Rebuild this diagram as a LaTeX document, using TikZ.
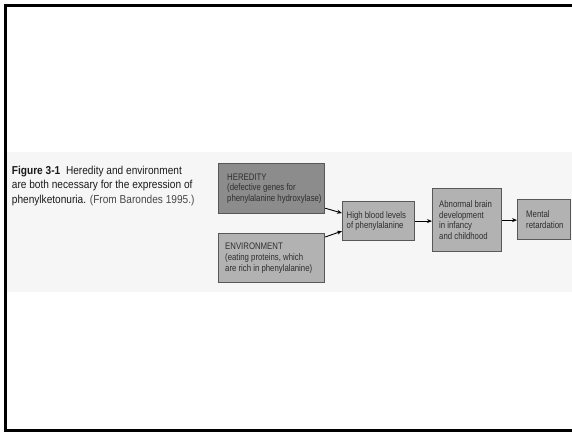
\documentclass[tikz,border=0pt]{standalone}
\usepackage{fontspec}
\setmainfont{Liberation Sans}
\newfontfamily\capfont[FakeStretch=0.88]{Liberation Sans}
\newfontfamily\bxfont[FakeStretch=0.82]{Liberation Sans}
\usetikzlibrary{arrows.meta,calc}
\definecolor{bandbg}{HTML}{F6F6F6}
\definecolor{darkbox}{HTML}{8C8C8C}
\definecolor{lightbox}{HTML}{B2B2B2}
\definecolor{boxline}{HTML}{585858}
\definecolor{boxtext}{HTML}{2E2E2E}
\definecolor{captext}{HTML}{1A1A1A}
\definecolor{capsrc}{HTML}{474747}
\begin{document}
\begin{tikzpicture}[x=1pt,y=-1pt,
  box/.style={draw=boxline, line width=1.2pt, rectangle, inner sep=0pt, anchor=north west},
  boxtxt/.style={font=\bxfont\fontsize{9.5}{10.7}\selectfont, text=boxtext, align=left, inner sep=0pt, anchor=west},
  arr/.style={-{Stealth[length=5pt,width=4pt]}, line width=0.9pt, black}]
\useasboundingbox (0,0) rectangle (572,433);
\fill[bandbg] (7,152) rectangle (572,292);
\draw[line width=3pt] (572,5.8) -- (5,5.8) -- (5,430.5) -- (572,430.5);

\node[font=\capfont\fontsize{11.5}{14.5}\selectfont, text=captext, align=left, inner sep=0pt, anchor=north west] (cap) at (11.7,165.5)
  {\textbf{Figure 3-1}\enspace Heredity and environment\\are both necessary for the expression of\\phenylketonuria. {\color{capsrc}(From Barondes 1995.)}};

\node[box, fill=darkbox, minimum width=106pt, minimum height=50pt] (her) at (218,163) {};
\node[box, fill=lightbox, minimum width=106pt, minimum height=49pt] (env) at (218,233) {};
\node[box, fill=lightbox, minimum width=72pt, minimum height=39pt] (high) at (342,201) {};
\node[box, fill=lightbox, minimum width=69pt, minimum height=63pt] (abn) at (432,188) {};
\node[box, fill=lightbox, minimum width=53pt, minimum height=40pt] (ment) at (517,199) {};

\node[boxtxt] (hert) at ($(her.west)+(9,0)$) {HEREDITY\\(defective genes for\\phenylalanine hydroxylase)};
\node[boxtxt] (envt) at ($(env.west)+(7,0)$) {ENVIRONMENT\\(eating proteins, which\\are rich in phenylalanine)};
\node[boxtxt] (hight) at ($(high.west)+(4.5,0)$) {High blood levels\\of phenylalanine};
\node[boxtxt] (abnt) at ($(abn.west)+(7,0)$) {Abnormal brain\\development\\in infancy\\and childhood};
\node[boxtxt] (mentt) at ($(ment.west)+(9,0)$) {Mental\\retardation};

\draw[arr] ($(her.south east)+(0,-6)$) -- ($(high.west)+(0,-8)$);
\draw[arr] ($(env.north east)+(0,4)$) -- ($(high.west)+(0,10)$);
\draw[arr] (high.east) -- (high.east -| abn.west);
\draw[arr] (abn.east) -- (abn.east -| ment.west);
\end{tikzpicture}
\end{document}
